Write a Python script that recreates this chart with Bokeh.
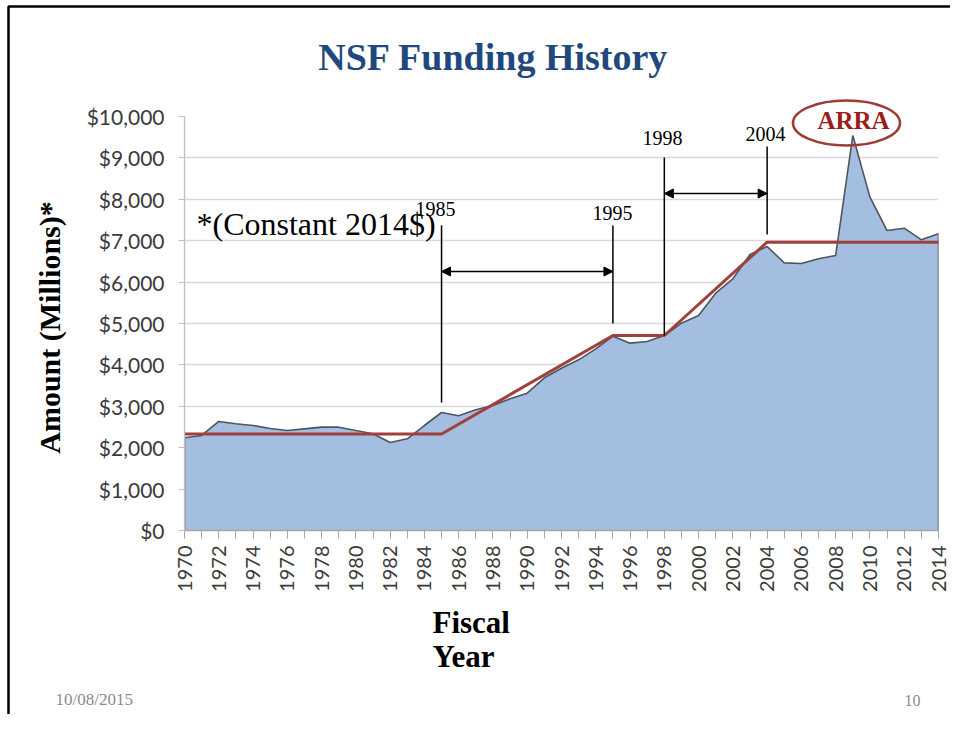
import math
from bokeh.plotting import figure
from bokeh.models import (Range1d, FixedTicker, NumeralTickFormatter, Arrow, NormalHead)
from bokeh.core.properties import value
from bokeh.embed import file_html
from bokeh.resources import INLINE

# ---------------- data ----------------
years = list(range(1970, 2015))
funding = [2240, 2295, 2633, 2577, 2536, 2464, 2415, 2455, 2496, 2496,
           2415, 2335, 2126, 2214, 2536, 2850, 2770, 2915, 3019, 3180,
           3317, 3688, 3920, 4123, 4388, 4694, 4525, 4565, 4710, 5008,
           5193, 5733, 6079, 6667, 6860, 6465, 6449, 6562, 6643, 9541,
           8052, 7246, 7302, 7022, 7166]
trend_years = [1970, 1985, 1995, 1998, 2004, 2014]
trend_values = [2330, 2330, 4710, 4710, 6965, 6965]
marker_years = [1985, 1995, 1998, 2004]
marker_bottom = [3090, 5000, 4710, 7150]
marker_top = [7370, 7370, 9010, 9275]
arrow_spans = [(1985, 1995, 6256), (1998, 2004, 8140)]
marker_labels = ["1985", "1995", "1998", "2004"]
y_ticks = list(range(0, 10001, 1000))
x_label_ticks = list(range(1970, 2015, 2))

# ---------------- geometry (figure px) ----------------
W, H = 950, 714
FL, FR, FT, FB = 184, 938, 116, 530   # frame edges
X0, X1, Y0, Y1 = 1970, 2014, 0, 10000

def dx(px):
    return X0 + (px - FL) / (FR - FL) * (X1 - X0)

def dy(py):
    return Y0 + (FB - py) / (FB - FT) * (Y1 - Y0)

p = figure(width=W, height=H, output_backend="svg", toolbar_location=None,
           x_range=Range1d(X0, X1), y_range=Range1d(Y0, Y1),
           min_border_left=FL, min_border_right=W - FR,
           min_border_top=FT, min_border_bottom=H - FB)
p.outline_line_color = None
p.background_fill_color = "white"
p.border_fill_color = "white"

# area
p.varea(x=years, y1=[0] * len(years), y2=funding, fill_color="#a3bee0")
p.line(x=[years[0]] + years + [years[-1]], y=[0] + funding + [0],
       line_color="#4f555c", line_width=1.6)
# trend
p.line(x=trend_years, y=trend_values, line_color="#a0403a", line_width=3)

# axes
p.xgrid.grid_line_color = None
p.ygrid.grid_line_color = "#d9d9d9"
p.ygrid.grid_line_width = 1.5
p.yaxis.ticker = FixedTicker(ticks=y_ticks)
p.yaxis.formatter = NumeralTickFormatter(format="$0,0")
p.yaxis.axis_line_color = "#bfbfbf"
p.yaxis.axis_line_width = 1.3
p.yaxis.major_tick_line_color = "#bfbfbf"
p.yaxis.major_tick_out = 6
p.yaxis.major_tick_in = 0
p.yaxis.minor_tick_line_color = None
p.yaxis.major_label_standoff = 14
p.yaxis.major_label_text_font = "Lato"
p.yaxis.major_label_text_font_size = "21px"
p.yaxis.major_label_text_color = "#3a3a3a"

p.xaxis.ticker = FixedTicker(ticks=x_label_ticks, minor_ticks=years)
p.xaxis.axis_line_color = "#a6a6a6"
p.xaxis.axis_line_width = 1.5
p.xaxis.major_tick_line_color = "#a6a6a6"
p.xaxis.minor_tick_line_color = "#a6a6a6"
p.xaxis.major_tick_out = 8
p.xaxis.major_tick_in = 0
p.xaxis.minor_tick_out = 8
p.xaxis.minor_tick_in = 0
p.xaxis.major_label_orientation = math.pi / 2
p.xaxis.major_label_standoff = 7
p.xaxis.major_label_text_font = "Lato"
p.xaxis.major_label_text_font_size = "20px"
p.xaxis.major_label_text_color = "#3a3a3a"

# annotation marker lines and arrows
p.segment(x0=marker_years, x1=marker_years, y0=marker_bottom, y1=marker_top,
          line_color="black", line_width=1.5, level="overlay")
for xs, xe, ya in arrow_spans:
    p.add_layout(Arrow(x_start=xs, x_end=xe, y_start=ya, y_end=ya,
                       line_width=1.5, line_color="black",
                       start=NormalHead(size=9, fill_color="black", line_color="black"),
                       end=NormalHead(size=9, fill_color="black", line_color="black")))

# ARRA ellipse
p.ellipse(x=[dx(846)], y=[dy(122.5)], width=[107], height=[45],
          width_units="screen", height_units="screen",
          fill_color=None, line_color="#9e3b35", line_width=2.6, level="overlay")

# slide frame
p.line(x=[dx(8), dx(8), dx(960)], y=[dy(730), dy(6), dy(6)],
       line_color="black", line_width=2.5, level="overlay")

def lab(text, px, py, size, align="left", bold=False, color="black",
        font="Liberation Serif", angle=0.0):
    # shift so the rendered baseline lands at (px, py)
    off = 0.4 * size
    if angle:
        px = px - off
    else:
        py = py - off
    p.text(x=[dx(px)], y=[dy(py)], text=[text], text_font=value(font),
           text_font_size=f"{size}px", text_align=align,
           text_baseline="alphabetic", angle=angle,
           text_font_style="bold" if bold else "normal",
           text_color=color, level="overlay")

lab("NSF Funding History", 493, 72, 38, align="center", bold=True, color="#1f497d")
lab("Amount (Millions)*", 61, 327, 30, align="center", bold=True, angle=math.pi / 2)
lab("Fiscal", 432, 634, 31, bold=True)
lab("Year", 432, 668, 31, bold=True)
lab("*(Constant 2014$)", 196, 236, 32)
for t, (cx, by) in zip(marker_labels, [(435, 216), (612, 220), (662, 145), (765, 141)]):
    lab(t, cx, by, 20, align="center")
lab("ARRA", 853, 130, 25, align="center", bold=True, color="#9c1b1b")
lab("10/08/2015", 55, 706, 17, color="#8c8c8c")
lab("10", 904, 706, 16, color="#8c8c8c")

open("out.html", "w").write(file_html(p, INLINE))
